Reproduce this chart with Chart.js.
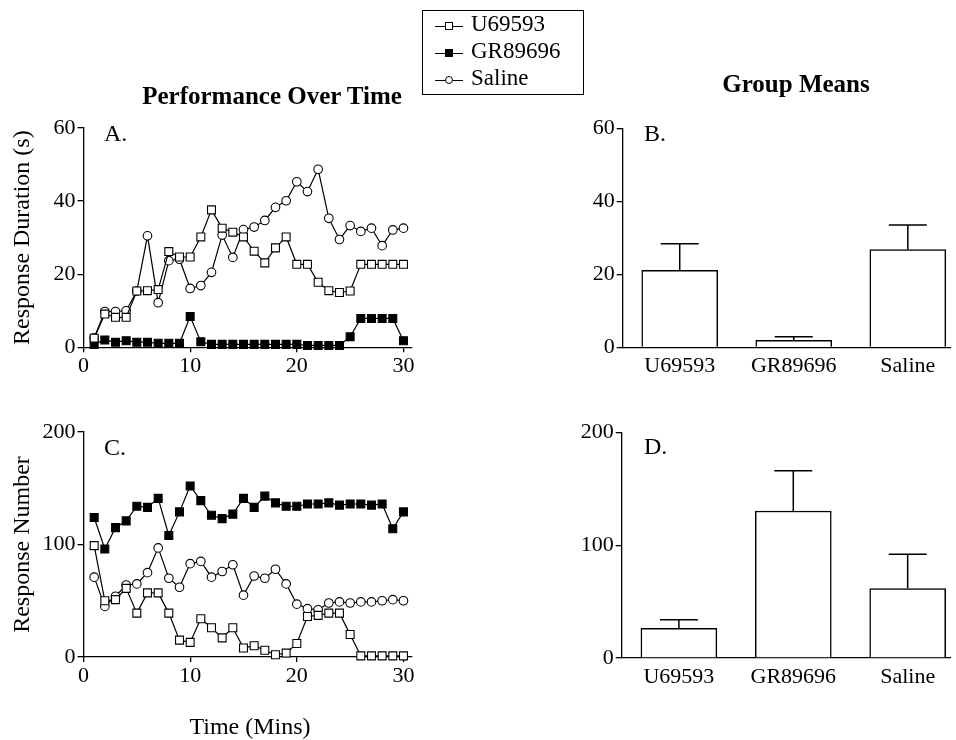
<!DOCTYPE html>
<html>
<head>
<meta charset="utf-8">
<script src="https://cdn.jsdelivr.net/npm/chart.js@4.4.1/dist/chart.umd.min.js"></script>
<style>
  body { margin: 0; background: #fff; }
  #page { position: relative; width: 956px; height: 740px; overflow: hidden;
          font-family: "Liberation Serif", "Times New Roman", serif; color: #000; }
  #page canvas { position: absolute; left: 0; top: 0; }
  .txt { position: absolute; white-space: nowrap; line-height: 1; }
  .title { font-weight: bold; font-size: 25px; transform: translateX(-50%); }
  .letter { font-size: 24px; }
  .legline { position: absolute; height: 0; border-top: 1.2px solid #000; }
  .legmark { position: absolute; width: 6px; height: 6px; border: 1px solid #000; background: #fff; }
</style>
</head>
<body>
<div id="page">
  <canvas id="chartA" width="956" height="740"></canvas>
  <canvas id="chartB" width="956" height="740"></canvas>
  <canvas id="chartC" width="956" height="740"></canvas>
  <canvas id="chartD" width="956" height="740"></canvas>

  <div class="txt title" style="left:272px; top:83px;">Performance Over Time</div>
  <div class="txt title" style="left:796px; top:71px;">Group Means</div>

  <div class="txt letter" style="left:104px; top:121px;">A.</div>
  <div class="txt letter" style="left:644px; top:121px;">B.</div>
  <div class="txt letter" style="left:104px; top:435px;">C.</div>
  <div class="txt letter" style="left:644px; top:434px;">D.</div>

  <div class="txt" style="left:250px; top:714px; font-size:24px; transform:translateX(-50%);">Time (Mins)</div>

  <!-- legende -->
  <div style="position:absolute; left:422px; top:10px; width:160px; height:83px; border:1px solid #000;"></div>
  <div class="legline" style="left:435px; top:26px; width:28px;"></div>
  <div class="legmark" style="left:445px; top:22px;"></div>
  <div class="txt" style="left:471px; top:12px; font-size:23px;">U69593</div>
  <div class="legline" style="left:435px; top:53px; width:28px;"></div>
  <div class="legmark" style="left:445px; top:49px; background:#000;"></div>
  <div class="txt" style="left:471px; top:39px; font-size:23px;">GR89696</div>
  <div class="legline" style="left:435px; top:80px; width:28px;"></div>
  <div class="legmark" style="left:445px; top:76px; border-radius:50%;"></div>
  <div class="txt" style="left:471px; top:66px; font-size:23px;">Saline</div>
</div>

<script>
// ---- dados ----
const minutes = [1, 2, 3, 4, 5, 6, 7, 8, 9, 10, 11, 12, 13, 14, 15,
                 16, 17, 18, 19, 20, 21, 22, 23, 24, 25, 26, 27, 28, 29, 30];
const timeTicks = [0, 10, 20, 30];

const durU69593 = [2.5, 9.1, 8.2, 8.2, 15.4, 15.5, 15.8, 26.2, 24.7, 24.7, 30.2, 37.6, 32.6, 31.5, 30.2,
                   26.3, 23.1, 27.2, 30.2, 22.7, 22.7, 17.8, 15.5, 15.0, 15.4, 22.7, 22.7, 22.7, 22.7, 22.7];
const durGR89696 = [0.8, 2.0, 1.4, 1.8, 1.4, 1.4, 1.1, 1.1, 1.1, 8.4, 1.5, 0.8, 0.8, 0.8, 0.8,
                    0.8, 0.8, 0.8, 0.8, 0.8, 0.5, 0.5, 0.5, 0.5, 2.9, 7.9, 7.9, 7.9, 7.9, 1.8];
const durSaline = [2.6, 9.8, 9.8, 10.0, 15.4, 30.5, 12.2, 23.7, 24.1, 16.1, 16.9, 20.5, 30.7, 24.6, 32.2,
                   32.9, 34.7, 38.3, 40.1, 45.3, 42.6, 48.7, 35.3, 29.5, 33.3, 31.7, 32.6, 27.8, 32.1, 32.6];

const numU69593 = [99, 50, 51, 61, 39, 57, 57, 39, 15, 13, 34, 26, 17, 26, 8,
                   10, 6, 2, 3.5, 12, 36, 37, 39, 39, 20, 1, 1, 1, 1, 1];
const numGR89696 = [124, 96, 115, 121, 134, 133, 141, 108, 129, 152, 139, 126, 123, 127, 141,
                    133, 143, 137, 134, 134, 136, 136, 137, 135, 136, 136, 135, 136, 114, 129];
const numSaline = [71, 45, 54, 64, 65, 75, 97, 70, 62, 83, 85, 71, 76, 82, 55,
                   72, 70, 78, 65, 47, 43, 42, 48, 49, 48, 49, 49, 50, 51, 50];

const groups = ['U69593', 'GR89696', 'Saline'];
const groupPos = [1, 2, 3];
const durMeans = [21.1, 1.9, 26.8];
const durSem = [7.3, 1.0, 6.7];
const numMeans = [26.2, 130.3, 61.5];
const numSem = [7.6, 35.6, 30.5];

// ---- estilo ----
const FONT = '"Liberation Serif", "Times New Roman", serif';
Chart.defaults.font.family = FONT;
Chart.defaults.color = '#000';
Chart.defaults.animation = false;

const W = 956, H = 740, XH = 40;

function yAxis(max, step, width, title) {
  return {
    type: 'linear', min: 0, max: max,
    ticks: { stepSize: step, font: { size: 22 }, padding: 2, color: '#000' },
    grid: { display: true, drawOnChartArea: false, drawTicks: true, tickLength: 6, color: '#000', lineWidth: 1.3 },
    border: { display: true, color: '#000', width: 1.3 },
    title: { display: !!title, text: title || '', font: { size: 24 }, color: '#000', padding: { top: 8, bottom: 0 } },
    afterFit: s => { s.width = width; }
  };
}

function padding(area) {
  return { left: 0, top: area.top, right: W - area.right, bottom: H - area.bottom - XH };
}

function lineSet(label, values, style, fill) {
  return {
    label: label,
    data: values.map((v, i) => ({ x: minutes[i], y: v })),
    borderColor: '#000', borderWidth: 1.2,
    pointStyle: style, pointRadius: style === 'rect' ? 5.6 : 4.3,
    pointBorderWidth: 1.1, pointBorderColor: '#000', pointBackgroundColor: fill,
    tension: 0, clip: false
  };
}

function lineChart(id, u, gr, sal, yMax, yStep, yTitle, area) {
  new Chart(document.getElementById(id), {
    type: 'line',
    data: {
      datasets: [
        lineSet('U69593', u, 'rect', '#fff'),
        lineSet('GR89696', gr, 'rect', '#000'),
        lineSet('Saline', sal, 'circle', '#fff')
      ]
    },
    options: {
      responsive: false,
      layout: { padding: padding(area) },
      plugins: { legend: { display: false }, tooltip: { enabled: false } },
      scales: {
        x: {
          type: 'linear', min: 0, max: 30.8,
          afterBuildTicks: s => { s.ticks = timeTicks.map(v => ({ value: v })); },
          ticks: { font: { size: 22 }, padding: 1, maxRotation: 0, autoSkip: false, color: '#000' },
          grid: { display: true, drawOnChartArea: false, tickLength: 5, color: '#000', lineWidth: 1.3 },
          border: { display: true, color: '#000', width: 1.3 },
          afterFit: s => { s.height = XH; }
        },
        y: yAxis(yMax, yStep, area.left, yTitle)
      }
    }
  });
}

// barras de erro (media + EPM)
const errorBars = {
  id: 'errorBars',
  afterDatasetsDraw(chart, args, opts) {
    const { ctx, scales: { x, y } } = chart;
    const bars = chart.getDatasetMeta(0).data;
    ctx.save();
    ctx.strokeStyle = '#000';
    ctx.lineWidth = 1.5;
    opts.means.forEach((m, i) => {
      const px = x.getPixelForValue(groupPos[i]);
      const base = y.getPixelForValue(m);
      const top = y.getPixelForValue(m + opts.sem[i]);
      const half = bars[i].width / 4;
      ctx.beginPath();
      ctx.moveTo(px, base);
      ctx.lineTo(px, top);
      ctx.moveTo(px - half, top);
      ctx.lineTo(px + half, top);
      ctx.stroke();
    });
    ctx.restore();
  }
};

function barChart(id, means, sem, yMax, yStep, area) {
  new Chart(document.getElementById(id), {
    type: 'bar',
    data: {
      datasets: [{
        data: means.map((m, i) => ({ x: groupPos[i], y: m })),
        backgroundColor: '#fff', borderColor: '#000', borderWidth: 1.5,
        barThickness: 76, borderSkipped: 'start'
      }]
    },
    options: {
      responsive: false,
      layout: { padding: padding(area) },
      plugins: { legend: { display: false }, tooltip: { enabled: false }, errorBars: { means: means, sem: sem } },
      scales: {
        x: {
          type: 'linear', min: 0.5, max: 3.37, offset: false,
          afterBuildTicks: s => { s.ticks = groupPos.map(v => ({ value: v })); },
          ticks: { font: { size: 22 }, padding: 6, maxRotation: 0, autoSkip: false, color: '#000',
                   callback: v => groups[groupPos.indexOf(v)] },
          grid: { display: false, drawTicks: false, offset: false },
          border: { display: true, color: '#000', width: 1.3 },
          afterFit: s => { s.height = XH; }
        },
        y: yAxis(yMax, yStep, area.left, '')
      }
    },
    plugins: [errorBars]
  });
}

lineChart('chartA', durU69593, durGR89696, durSaline, 60, 20, 'Response Duration (s)',
          { left: 83.5, top: 128, right: 412, bottom: 347.3 });
lineChart('chartC', numU69593, numGR89696, numSaline, 200, 100, 'Response Number',
          { left: 83.5, top: 432, right: 412, bottom: 657 });
barChart('chartB', durMeans, durSem, 60, 20, { left: 622.7, top: 128.3, right: 950, bottom: 347.3 });
barChart('chartD', numMeans, numSem, 200, 100, { left: 621.7, top: 432.3, right: 950, bottom: 658 });
</script>
</body>
</html>
